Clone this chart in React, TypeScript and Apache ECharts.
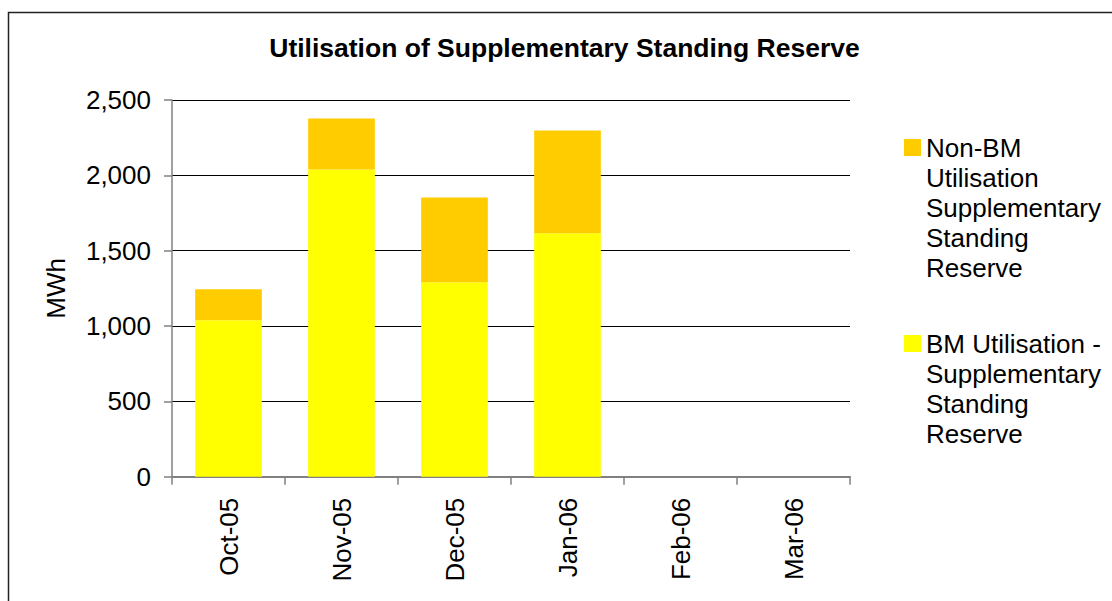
import React, { useEffect, useRef } from "react";
import * as echarts from "echarts";

const categories = ["Oct-05", "Nov-05", "Dec-05", "Jan-06", "Feb-06", "Mar-06"];
const bmValues = [1038, 2039, 1290, 1615, 0, 0];
const nonBmValues = [206, 338, 563, 682, 0, 0];
const yTicks = [0, 500, 1000, 1500, 2000, 2500];
const seriesBM = "BM Utilisation - Supplementary Standing Reserve";
const seriesNonBM = "Non-BM Utilisation Supplementary Standing Reserve";
const legendNonBM = ["Non-BM", "Utilisation", "Supplementary", "Standing", "Reserve"];
const legendBM = ["BM Utilisation -", "Supplementary", "Standing", "Reserve"];
const titleText = "Utilisation of Supplementary Standing Reserve";
const yName = "MWh";

const FONT = "'Liberation Sans', Arial, sans-serif";
const LH = 30;

// Prepend empty lines so the first real line sits at the icon's centre.
const legendLabel = (lines: string[]) =>
  new Array(lines.length - 1).fill("").concat(lines).join("\n");

export default function App() {
  const ref = useRef<HTMLDivElement>(null);
  useEffect(() => {
    if (!ref.current) return;
    const chart = echarts.init(ref.current, null, { renderer: "svg" });
    const legendCommon = {
      left: 904,
      padding: 0,
      itemWidth: 17,
      itemHeight: 17,
      icon: "rect",
      textStyle: {
        fontSize: 26,
        fontFamily: FONT,
        color: "#000",
        lineHeight: LH,
      },
    };
    chart.setOption({
      animation: false,
      backgroundColor: "#ffffff",
      textStyle: { fontFamily: FONT },
      title: {
        text: titleText,
        left: 564.5,
        textAlign: "center",
        top: 34,
        padding: 0,
        textStyle: { fontSize: 26.5, fontWeight: "bold", color: "#000", fontFamily: FONT },
      },
      graphic: [
        {
          type: "rect",
          shape: { x: 8.5, y: 12.5, width: 1300, height: 800 },
          style: { fill: "none", stroke: "#222", lineWidth: 1.5 },
          silent: true,
        },
      ],
      legend: [
        {
          ...legendCommon,
          data: [seriesNonBM],
          top: 147.5 - ((2 * legendNonBM.length - 1) * LH) / 2,
          formatter: () => legendLabel(legendNonBM),
        },
        {
          ...legendCommon,
          data: [seriesBM],
          top: 343.5 - ((2 * legendBM.length - 1) * LH) / 2,
          formatter: () => legendLabel(legendBM),
        },
      ],
      grid: { left: 172, right: 262, top: 100, bottom: 124.3, containLabel: false },
      xAxis: {
        type: "category",
        data: categories,
        boundaryGap: true,
        axisLine: { show: true, lineStyle: { color: "#808080", width: 2 } },
        axisTick: { show: true, length: 8, lineStyle: { color: "#808080", width: 1.5 } },
        axisLabel: {
          rotate: 90,
          margin: 21,
          fontSize: 26,
          color: "#000",
          fontFamily: FONT,
          interval: 0,
        },
        splitLine: { show: false },
      },
      yAxis: {
        type: "value",
        min: yTicks[0],
        max: yTicks[yTicks.length - 1],
        interval: yTicks[1] - yTicks[0],
        name: yName,
        nameLocation: "middle",
        nameRotate: 90,
        nameGap: 103,
        nameTextStyle: { fontSize: 26, color: "#000", fontFamily: FONT },
        axisLine: { show: true, lineStyle: { color: "#808080", width: 1.5 } },
        axisTick: { show: true, length: 8, lineStyle: { color: "#808080", width: 1.5 } },
        axisLabel: {
          margin: 21,
          fontSize: 26,
          color: "#000",
          fontFamily: FONT,
          formatter: (v: number) => v.toLocaleString("en-US"),
        },
        splitLine: { show: true, lineStyle: { color: "#000", width: 1 } },
      },
      series: [
        {
          name: seriesBM,
          type: "bar",
          stack: "total",
          data: bmValues,
          barWidth: "59%",
          itemStyle: { color: "#FFFF00" },
        },
        {
          name: seriesNonBM,
          type: "bar",
          stack: "total",
          data: nonBmValues,
          barWidth: "59%",
          itemStyle: { color: "#FFCC00" },
        },
      ],
    });
    return () => chart.dispose();
  }, []);
  return (
    <div
      ref={ref}
      style={{ position: "absolute", left: 0, top: 0, width: 1112, height: 601 }}
    />
  );
}
